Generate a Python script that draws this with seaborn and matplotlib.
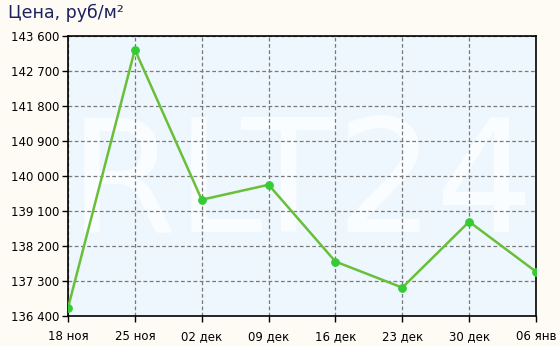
import matplotlib
matplotlib.use("Agg")
import matplotlib.pyplot as plt
import seaborn as sns
import pandas as pd

dates = ["18 ноя", "25 ноя", "02 дек", "09 дек", "16 дек", "23 дек", "30 дек", "06 янв"]
prices = [136610, 143250, 139390, 139775, 137800, 137130, 138825, 137540]
yticks = [136400, 137300, 138200, 139100, 140000, 140900, 141800, 142700, 143600]
ytick_labels = ["136 400", "137 300", "138 200", "139 100", "140 000", "140 900", "141 800", "142 700", "143 600"]

sns.set_theme(style="white")
plt.rcParams['font.family'] = ['DejaVu Sans']

df = pd.DataFrame({"x": range(len(dates)), "price": prices})

fig = plt.figure(figsize=(5.6, 3.46), dpi=100, facecolor="#fdfbf4")
ax = fig.add_axes([68/560, 1 - 316/346, (536-68)/560, (316-36)/346])
ax.set_facecolor("#eef7fd")

ax.text(0.499, 0.30, "RLT24", transform=ax.transAxes, ha="center", va="baseline",
        fontsize=112, color="#fafdff", zorder=0.2, fontfamily="DejaVu Sans")

sns.lineplot(data=df, x="x", y="price", ax=ax, color="#6abf38", linewidth=1.8,
             marker="o", markersize=5.5, markerfacecolor="#33cc33",
             markeredgecolor="#33cc33", zorder=3)

ax.set_xlim(0, len(dates) - 1)
ax.set_ylim(yticks[0], yticks[-1])
ax.set_xticks(range(len(dates)))
ax.set_xticklabels(dates)
ax.set_yticks(yticks)
ax.set_yticklabels(ytick_labels)
ax.set_xlabel("")
ax.set_ylabel("")

ax.set_axisbelow(True)
ax.grid(True, color="#7a7a7a", linestyle=(0, (3, 2)), linewidth=0.9)
for s in ax.spines.values():
    s.set_color("black")
    s.set_linewidth(1.2)
ax.tick_params(axis="both", colors="black", labelsize=8.5, length=4, width=1,
               direction="out", bottom=True, left=True, pad=2)
ax.tick_params(axis="x", pad=6)

fig.text(8/560, 1 - 13/346, "Цена, руб/м²", ha="left", va="center",
         fontsize=12.5, color="#1c2260")

fig.savefig("out.png", dpi=100, facecolor=fig.get_facecolor())
